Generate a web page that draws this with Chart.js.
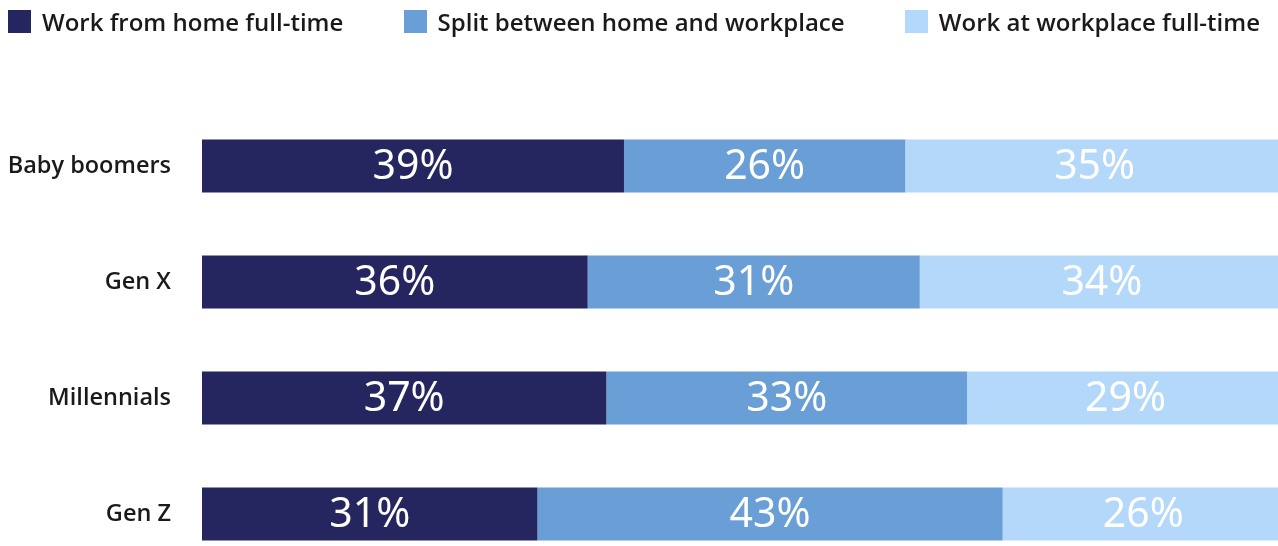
<!DOCTYPE html>
<html>
<head>
<meta charset="utf-8">
<script src="https://cdn.jsdelivr.net/npm/chart.js@4"></script>
<style>
  html, body { margin: 0; padding: 0; background: #fff; overflow: hidden; width: 1278px; height: 546px; }
  #wrap { position: relative; width: 1286px; height: 580px; }
  #legend {
    position: absolute; left: 8px; right: 26px; top: 5px; height: 32px;
    display: flex; justify-content: space-between; align-items: center;
    font: 600 24px "Open Sans", sans-serif; color: #1a1a1a; z-index: 2;
  }
  #legend .item { display: flex; align-items: center; white-space: nowrap; }
  #legend .box { width: 23px; height: 23px; margin-right: 11px; }
  #chart { position: absolute; left: 0; top: 0; width: 1286px; height: 580px; }
</style>
</head>
<body>
<div id="wrap">
  <div id="legend"></div>
  <canvas id="chart" width="1286" height="580"></canvas>
</div>
<script>
// --- Data -------------------------------------------------------------

const categories = ["Baby boomers", "Gen X", "Millennials", "Gen Z"];
const seriesNames = [
  "Work from home full-time",
  "Split between home and workplace",
  "Work at workplace full-time",
];
const fullTimeHome = [39, 36, 37, 31];
const splitHomeWork = [26, 31, 33, 43];
const fullTimeWorkplace = [35, 34, 29, 26];

const colors = ["#25255f", "#6a9ed6", "#b4d8fa"];

// printed values don't always add to 100, bars are drawn as share of the row
const series = [fullTimeHome, splitHomeWork, fullTimeWorkplace];
const rowTotals = categories.map((_, i) => series.reduce((s, arr) => s + arr[i], 0));

// --- Legend -----------------------------------------------------------

document.querySelector("#legend").innerHTML = seriesNames
  .map((name, i) => `<div class="item"><span class="box" style="background:${colors[i]}"></span>${name}</div>`)
  .join("");

// --- Labels inside segments --------------------------------------------

const segmentLabels = {
  id: "segmentLabels",
  afterDatasetsDraw(chart) {
    const { ctx } = chart;
    ctx.save();
    ctx.font = '400 41px "Noto Sans", sans-serif';
    ctx.fillStyle = "#ffffff";
    ctx.textAlign = "center";
    ctx.textBaseline = "middle";
    chart.data.datasets.forEach((ds, i) => {
      chart.getDatasetMeta(i).data.forEach((bar, j) => {
        ctx.fillText(`${ds.printed[j]}%`, (bar.x + bar.base) / 2, bar.y + 1);
      });
    });
    ctx.restore();
  },
};

// --- Chart -------------------------------------------------------------

new Chart(document.querySelector("#chart"), {
  type: "bar",
  data: {
    labels: categories,
    datasets: series.map((arr, i) => ({
      label: seriesNames[i],
      data: arr.map((v, j) => (v / rowTotals[j]) * 100),
      printed: arr,
      backgroundColor: colors[i],
      borderWidth: 0,
      barPercentage: 1,
      categoryPercentage: 53 / 116,
    })),
  },
  options: {
    indexAxis: "y",
    responsive: false,
    animation: false,
    layout: { padding: { top: 108, bottom: 8, left: 0, right: 2 } },
    plugins: { legend: { display: false }, tooltip: { enabled: false } },
    scales: {
      x: { stacked: true, min: 0, max: 100, display: false },
      y: {
        stacked: true,
        grid: { display: false, drawTicks: false },
        border: { display: false },
        ticks: {
          padding: 31,
          color: "#1a1a1a",
          font: { family: "Open Sans", size: 23.5, weight: "600" },
        },
        afterFit: (scale) => {
          // fixed label column; tick padding shouldn't eat vertical room
          scale.width = 202;
          scale.paddingTop = 0;
          scale.paddingBottom = 0;
        },
      },
    },
  },
  plugins: [segmentLabels],
});
</script>
</body>
</html>
